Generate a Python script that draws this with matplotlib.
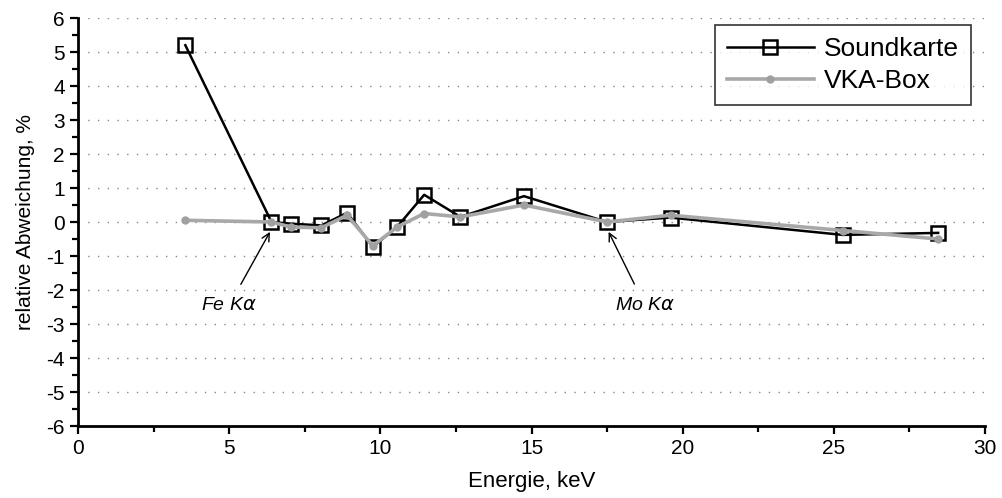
import matplotlib
matplotlib.use("Agg")
import matplotlib.pyplot as plt
from matplotlib.ticker import MultipleLocator

plt.rcParams['font.family'] = ['Liberation Sans', 'DejaVu Sans']
plt.rcParams['axes.unicode_minus'] = False

energy = [3.55, 6.4, 7.05, 8.05, 8.9, 9.75, 10.55, 11.45, 12.65, 14.75, 17.5, 19.6, 25.3, 28.45]
soundkarte = [5.2, 0.0, -0.05, -0.1, 0.27, -0.73, -0.15, 0.8, 0.15, 0.76, 0.0, 0.13, -0.38, -0.32]
vka_box = [0.05, 0.0, -0.15, -0.17, 0.2, -0.7, -0.15, 0.25, 0.15, 0.5, 0.0, 0.2, -0.25, -0.5]

fig = plt.figure(figsize=(10.02, 4.98), dpi=100)
ax = fig.add_axes([78/1002, 72/498, 907/1002, 408/498])

ax.plot(energy, vka_box, color='#a8a8a8', lw=2.6, marker='o', ms=5,
        mfc='#a0a0a0', mec='#a0a0a0', label='VKA-Box', zorder=3)
ax.plot(energy, soundkarte, color='black', lw=1.8, marker='s', ms=9.5,
        mfc='none', mec='black', mew=1.8, label='Soundkarte', zorder=2)

ax.set_xlim(0, 30)
ax.set_ylim(-6, 6)
ax.xaxis.set_major_locator(MultipleLocator(5))
ax.xaxis.set_minor_locator(MultipleLocator(2.5))
ax.yaxis.set_major_locator(MultipleLocator(1))
ax.yaxis.set_minor_locator(MultipleLocator(0.5))
ax.tick_params(which='major', direction='out', length=6, width=1.6, labelsize=15)
ax.tick_params(which='minor', direction='out', length=4, width=1.6)
ax.grid(axis='y', which='major', linestyle=(0, (1, 6)), color='#888888', lw=1.0)
for s in ['top', 'right']:
    ax.spines[s].set_visible(False)
for s in ['left', 'bottom']:
    ax.spines[s].set_linewidth(2)

ax.set_xlabel('Energie, keV', fontsize=16, labelpad=9)
ax.set_ylabel('relative Abweichung, %', fontsize=15, labelpad=8)

ax.annotate(r'Fe K$\alpha$', xy=(6.35, -0.29), xytext=(5.0, -2.45),
            fontsize=14, style='italic', ha='center', va='center',
            arrowprops=dict(arrowstyle='->', color='black', lw=1, shrinkA=8, shrinkB=0))
ax.annotate(r'Mo K$\alpha$', xy=(17.55, -0.29), xytext=(18.75, -2.45),
            fontsize=14, style='italic', ha='center', va='center',
            arrowprops=dict(arrowstyle='->', color='black', lw=1, shrinkA=8, shrinkB=0))

h, l = ax.get_legend_handles_labels()
leg = ax.legend(h[::-1], l[::-1], loc='upper right', bbox_to_anchor=(0.9846, 0.983),
                borderaxespad=0, fontsize=19, frameon=True, fancybox=False,
                edgecolor='black', handlelength=3.3, borderpad=0.45,
                labelspacing=0.32, handletextpad=0.4)
leg.get_frame().set_linewidth(1.2)

fig.savefig('out.png', dpi=100)
